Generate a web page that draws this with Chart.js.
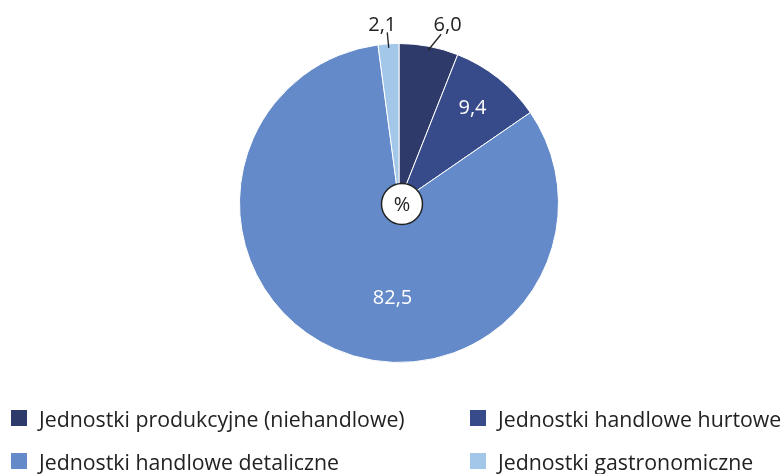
<!DOCTYPE html>
<html><head><meta charset="utf-8">
<script src="https://cdn.jsdelivr.net/npm/chart.js@4.4.1/dist/chart.umd.min.js"></script>
<style>
html,body{margin:0;padding:0;background:#fff;}
#wrap{position:relative;width:782px;height:474px;}
canvas{position:absolute;left:0;top:0;}
#legend{position:absolute;left:0;top:0;width:782px;height:474px;pointer-events:none;font-family:"Open Sans",sans-serif;font-weight:400;font-size:21.3px;color:#222;}
.item{position:absolute;display:flex;align-items:center;white-space:nowrap;}
.sw{width:16px;height:16px;margin-right:12px;flex:none;}
</style></head>
<body><div id="wrap"><canvas id="c" width="782" height="474"></canvas><div id="legend"></div></div>
<script>
const categories = ["Jednostki produkcyjne (niehandlowe)","Jednostki handlowe hurtowe","Jednostki handlowe detaliczne","Jednostki gastronomiczne"];
const values = [6.0, 9.4, 82.5, 2.1];
const valueLabels = ["6,0","9,4","82,5","2,1"];
const colors = ["#2e3a6a","#374b8a","#648ac9","#a3c7e8"];

const FONT = '400 20px "Open Sans",sans-serif';

const labelPlugin = {
  id:"labels",
  afterDatasetsDraw(chart){
    const ctx = chart.ctx;
    const meta = chart.getDatasetMeta(0);
    ctx.save();
    ctx.font = FONT;
    ctx.textAlign = "center"; ctx.textBaseline = "middle";
    meta.data.forEach((arc,i)=>{
      const cx = arc.x, cy = arc.y, R = arc.outerRadius;
      const mid = (arc.startAngle + arc.endAngle)/2;
      if(i===1){
        const r = R*0.77;
        ctx.fillStyle="#fff";
        ctx.fillText(valueLabels[i], cx+Math.cos(mid)*r-3, cy+Math.sin(mid)*r+1);
      } else if(i===2){
        const a = mid - 0.35;
        const r = R*0.6;
        ctx.fillStyle="#fff";
        ctx.fillText(valueLabels[i], cx+Math.cos(a)*r, cy+Math.sin(a)*r);
      } else {
        const p1 = [cx+Math.cos(mid)*(R-4), cy+Math.sin(mid)*(R-4)];
        let p2, t;
        if(i===0){ p2=[p1[0]+13, p1[1]-16]; t=[p2[0]+6.5, p2[1]-8.5]; }
        else { p2=[p1[0]-1.5, p1[1]-15.5]; t=[p2[0]-5, p2[1]-7.5]; }
        ctx.strokeStyle="#222"; ctx.lineWidth=1.3;
        ctx.beginPath(); ctx.moveTo(p1[0],p1[1]); ctx.lineTo(p2[0],p2[1]); ctx.stroke();
        ctx.fillStyle="#222";
        ctx.fillText(valueLabels[i], t[0], t[1]);
      }
    });
    const a0 = meta.data[0];
    const ccx = a0.x+3, ccy = a0.y+1;
    ctx.beginPath(); ctx.arc(ccx, ccy, 20.5, 0, Math.PI*2);
    ctx.fillStyle="#fff"; ctx.fill();
    ctx.lineWidth=1.5; ctx.strokeStyle="#222"; ctx.stroke();
    ctx.fillStyle="#222";
    ctx.font = FONT;
    ctx.fillText("%", ccx, ccy+1);
    ctx.restore();
  }
};

new Chart(document.getElementById("c"), {
  type:"pie",
  data:{labels:categories, datasets:[{data:values, backgroundColor:colors, borderColor:"#fff", borderWidth:1}]},
  options:{
    responsive:false, animation:false,
    layout:{padding:{top:43,bottom:111,left:239,right:223}},
    plugins:{legend:{display:false}, tooltip:{enabled:false}}
  },
  plugins:[labelPlugin]
});

const leg = document.getElementById("legend");
const pos = [[11,418],[470,418],[11,461],[470,461]];
categories.forEach((c,i)=>{
  const d=document.createElement("div"); d.className="item";
  d.style.left=pos[i][0]+"px"; d.style.top=(pos[i][1]-16)+"px"; d.style.height="32px";
  d.innerHTML='<span class="sw" style="background:'+colors[i]+'"></span><span>'+c+'</span>';
  leg.appendChild(d);
});
</script></body></html>
